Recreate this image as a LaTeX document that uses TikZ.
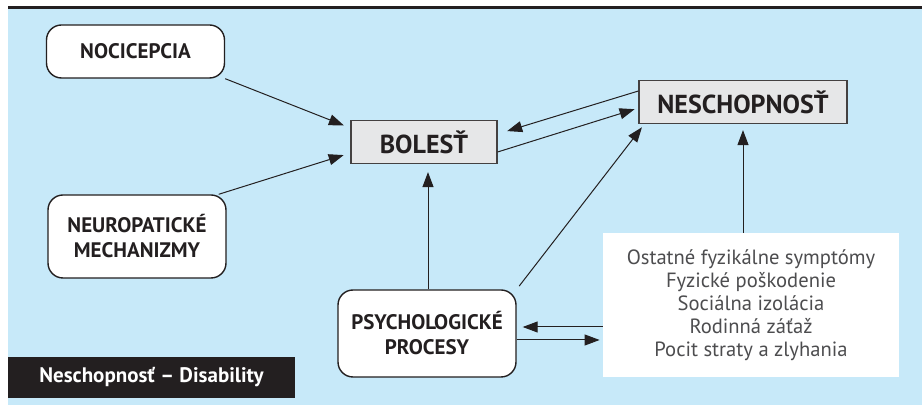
\documentclass[tikz,border=0pt]{standalone}
\usepackage{fontspec}
\setmainfont{PT Sans}
\usetikzlibrary{arrows.meta}
\definecolor{bgblue}{RGB}{199,233,249}
\definecolor{boxgray}{RGB}{230,231,232}
\definecolor{inkblack}{RGB}{35,31,32}
\definecolor{textgray}{RGB}{77,77,79}

\begin{document}
\begin{tikzpicture}[x=0.5pt, y=-0.5pt,
  every node/.style={text=inkblack},
  rbox/.style={draw=inkblack, line width=0.7pt, rounded corners=7.5pt, fill=white, align=center, minimum width=89pt, font=\bfseries\fontsize{10.5}{12.5}\selectfont},
  sbox/.style={draw=inkblack!85, line width=0.6pt, fill=boxgray, minimum height=21.5pt, font=\bfseries\fontsize{13}{15}\selectfont},
  arr/.style={-{Triangle[length=7.5pt,width=5.5pt]}, line width=0.5pt, inkblack}
]
\useasboundingbox (0,0) rectangle (922,405);
% Background and top rule
\fill[bgblue] (8,9) rectangle (922,405);
\draw[inkblack, line width=1.5pt] (8,7.5) -- (922,7.5);

% Boxes
\node[rbox, minimum height=26.5pt] (noci) at (135.5,51.5) {NOCICEPCIA};
\node[rbox, minimum height=41.5pt] (neuro) at (137,236.5) {NEUROPATICKÉ\\MECHANIZMY};
\node[sbox, minimum width=73pt] (bolest) at (424,142) {BOLESŤ};
\node[sbox, minimum width=104pt] (nesch) at (743,102) {NESCHOPNOSŤ};
\node[rbox, minimum height=43.5pt] (psycho) at (427,333.5) {PSYCHOLOGICKÉ\\PROCESY};
\node[fill=white, inner sep=0pt, minimum width=148pt, minimum height=72pt, align=center,
  font=\fontsize{10.3}{11.5}\selectfont, text=textgray] (list) at (751,305)
  {Ostatné fyzikálne symptómy\\Fyzické poškodenie\\Sociálna izolácia\\Rodinná záťaž\\Pocit straty a zlyhania};

% Legend
\node[fill=inkblack, text=white, minimum width=143.5pt, minimum height=20.5pt,
  font=\bfseries\fontsize{10.5}{12}\selectfont] (legend) at (151.5,377.5) {Neschopnosť – Disability};

% Arrows
\draw[arr, shorten >=3.5pt] (noci.south east) -- ([yshift=7pt]bolest.west);
\draw[arr, shorten >=3.5pt] ([xshift=-4pt]neuro.north east) -- ([yshift=-5.5pt]bolest.west);
\draw[arr, shorten >=5pt] ([yshift=5.5pt]nesch.west) -- ([yshift=4pt]bolest.east);
\draw[arr, shorten >=2pt] ([yshift=-5pt]bolest.east) -- ([yshift=-3pt]nesch.west);
\draw[arr, shorten >=4pt] ([xshift=0.5pt]psycho.north) -- ([xshift=0.5pt]psycho.north |- bolest.south);
\draw[arr, shorten <=2pt, shorten >=2pt] (psycho.north east) -- ([xshift=3pt]nesch.south west);
\draw[arr, shorten >=3pt] (list.north -| nesch.south) -- (nesch.south);
\draw[arr, shorten >=3pt] ([yshift=-11pt]list.west) -- ([yshift=-11pt]list.west -| psycho.east);
\draw[arr, shorten >=1.5pt] ([yshift=-3.25pt]psycho.east) -- ([yshift=-3.25pt]psycho.east -| list.west);
\end{tikzpicture}
\end{document}
